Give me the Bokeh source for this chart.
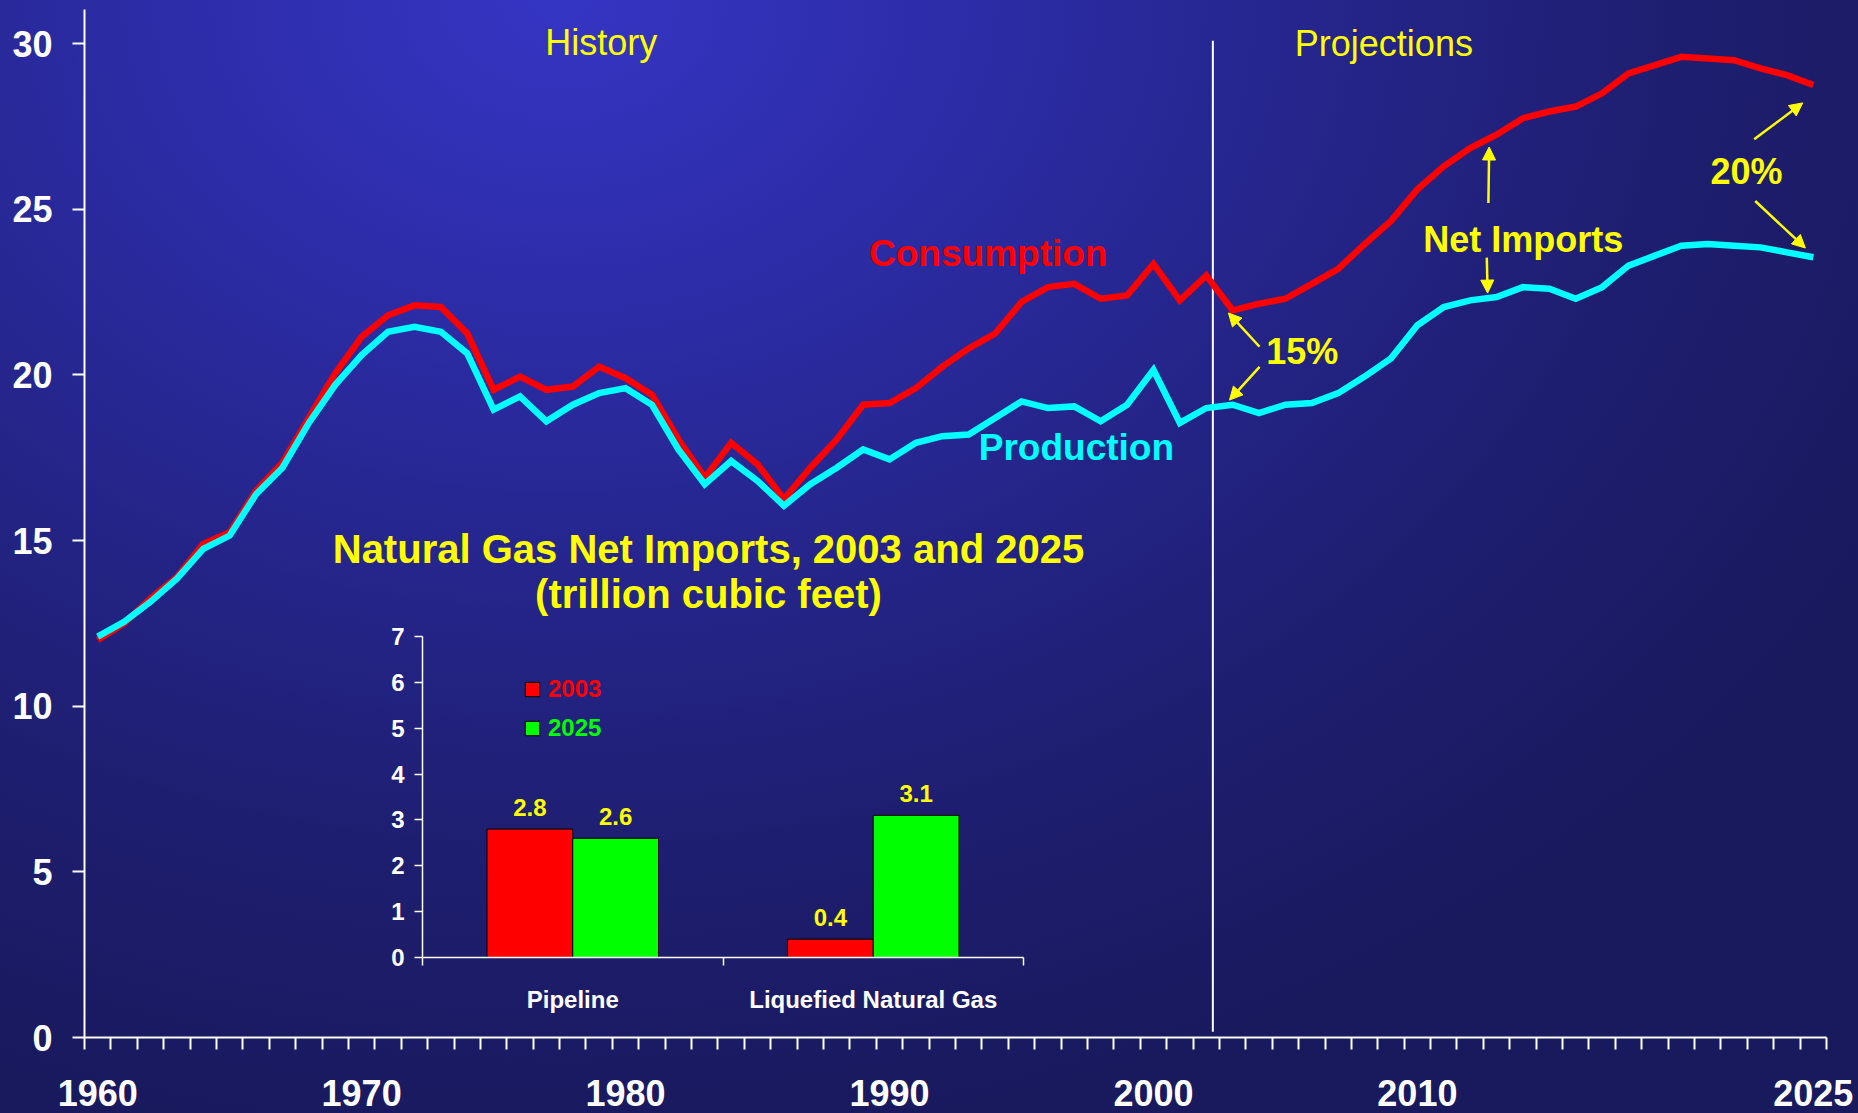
from bokeh.plotting import figure
from bokeh.models import (Range1d, FactorRange, FixedTicker, LinearAxis, Label, Arrow,
                          NormalHead, Legend, LegendItem, ColumnDataSource)
from bokeh.transform import dodge
from bokeh.layouts import column
from bokeh.core.properties import value
from bokeh.embed import file_html
from bokeh.resources import INLINE

# ---------------- data ----------------
years = list(range(1960, 2026))
consumption = [12.0, 12.5, 13.25, 13.9, 14.9, 15.25, 16.5, 17.35, 18.7, 20.05,
               21.15, 21.8, 22.1, 22.05, 21.25, 19.55, 19.95, 19.55, 19.65, 20.25,
               19.9, 19.4, 18.05, 16.9, 17.95, 17.3, 16.25, 17.2, 18.05, 19.1,
               19.15, 19.6, 20.25, 20.8, 21.25, 22.2, 22.65, 22.75, 22.3, 22.4,
               23.35, 22.25, 23.0, 21.95, 22.15, 22.3, 22.75, 23.2, 23.95, 24.65,
               25.6, 26.3, 26.85, 27.25, 27.75, 27.95, 28.1, 28.5, 29.1, 29.35,
               29.6, 29.55, 29.5, 29.25, 29.05, 28.75]
production = [12.1, 12.55, 13.15, 13.85, 14.75, 15.15, 16.4, 17.2, 18.55, 19.7,
              20.6, 21.3, 21.45, 21.3, 20.65, 18.95, 19.35, 18.6, 19.1, 19.45,
              19.6, 19.1, 17.75, 16.7, 17.4, 16.8, 16.05, 16.7, 17.2, 17.75,
              17.45, 17.95, 18.15, 18.2, 18.7, 19.2, 19.0, 19.05, 18.6, 19.1,
              20.15, 18.55, 19.0, 19.1, 18.85, 19.1, 19.15, 19.45, 19.95, 20.5,
              21.5, 22.05, 22.25, 22.35, 22.65, 22.6, 22.3, 22.65, 23.3, 23.6,
              23.9, 23.95, 23.9, 23.85, 23.7, 23.55]
x_tick_years = [1960, 1970, 1980, 1990, 2000, 2010, 2025]
x_tick_labels = ["1960", "1970", "1980", "1990", "2000", "2010", "2025"]
y_ticks = [0, 5, 10, 15, 20, 25, 30]

import_categories = ["Pipeline", "Liquefied Natural Gas"]
imports_2003 = [2.8, 0.4]
imports_2025 = [2.6, 3.1]
inset_y_ticks = [0, 1, 2, 3, 4, 5, 6, 7]

# ---------------- style ----------------
FONT = "Liberation Sans"
YELLOW = "#FFFF00"
RED = "#FF0000"
CYAN = "#00FFFF"
GREEN = "#00FF00"
WHITE = "#FFFFFF"

W, H = 1858, 1113
p = figure(width=W, height=H, x_range=Range1d(1959.5, 2025.5), y_range=Range1d(0, 31.03),
           output_backend="svg", toolbar_location=None,
           min_border_left=84, min_border_right=32, min_border_top=9, min_border_bottom=76)
p.background_fill_color = None
p.border_fill_color = None
p.outline_line_color = None
p.xgrid.visible = False
p.ygrid.visible = False
p.styles = {
    "background": "radial-gradient(ellipse 1500px 1150px at 560px 0px, #3535c4 0%, #2d2daa 25%, "
                  "#25258c 50%, #1e1e70 75%, #19195e 100%)",
}

xa = p.xaxis[0]
xa.ticker = FixedTicker(ticks=x_tick_years,
                        minor_ticks=[y - 0.5 for y in years] + [years[-1] + 0.5])
xa.major_label_overrides = dict(zip(x_tick_years, x_tick_labels))
xa.major_tick_out = 0
xa.major_tick_in = 0
xa.minor_tick_out = 12
xa.minor_tick_in = 0
xa.minor_tick_line_color = WHITE
xa.minor_tick_line_width = 2
xa.axis_line_color = WHITE
xa.axis_line_width = 2
xa.major_label_text_font = FONT
xa.major_label_text_font_size = "36px"
xa.major_label_text_font_style = "bold"
xa.major_label_text_color = WHITE
xa.major_label_standoff = 30

ya = p.yaxis[0]
ya.ticker = FixedTicker(ticks=y_ticks)
ya.major_tick_out = 12
ya.major_tick_in = 0
ya.minor_tick_out = 0
ya.minor_tick_in = 0
ya.major_tick_line_color = WHITE
ya.major_tick_line_width = 2
ya.axis_line_color = WHITE
ya.axis_line_width = 2
ya.major_label_text_font = FONT
ya.major_label_text_font_size = "36px"
ya.major_label_text_font_style = "bold"
ya.major_label_text_color = WHITE
ya.major_label_standoff = 20

# history / projections divider
DIVIDER_X, DIVIDER_Y0, DIVIDER_Y1 = 2002.25, 0.17, 30.09
p.segment(x0=[DIVIDER_X], y0=[DIVIDER_Y0], x1=[DIVIDER_X], y1=[DIVIDER_Y1],
          line_color=WHITE, line_width=2)

p.line(years, consumption, line_color=RED, line_width=6.5, line_join="miter")
p.line(years, production, line_color=CYAN, line_width=6.5, line_join="miter")

# text annotations: (text, x, y, colour, bold, size)
text_specs = [
    ("History", 1979.08, 30.04, YELLOW, False, "36px"),
    ("Projections", 2008.73, 30.01, YELLOW, False, "36px"),
    ("Consumption", 1993.74, 23.67, RED, True, "37px"),
    ("Production", 1997.08, 17.82, CYAN, True, "37px"),
    ("15%", 2005.64, 20.70, YELLOW, True, "36px"),
    ("Net Imports", 2014.01, 24.08, YELLOW, True, "36px"),
    ("20%", 2022.47, 26.14, YELLOW, True, "36px"),
    ("Natural Gas Net Imports, 2003 and 2025", 1983.14, 14.74, YELLOW, True, "40px"),
    ("(trillion cubic feet)", 1983.14, 13.39, YELLOW, True, "40px"),
]
for t, x, y, c, b, s in text_specs:
    p.add_layout(Label(x=x, y=y, text=t, text_color=c, text_font=FONT, text_font_size=s,
                       text_font_style="bold" if b else "normal",
                       text_align="center", text_baseline="alphabetic"))

# arrows: (x_start, y_start, x_end, y_end)
arrow_specs = [
    (2004.02, 20.85, 2002.84, 21.87),
    (2004.02, 20.24, 2002.88, 19.24),
    (2012.69, 25.19, 2012.72, 26.88),
    (2012.63, 23.54, 2012.66, 22.47),
    (2022.76, 27.11, 2024.60, 28.21),
    (2022.80, 25.25, 2024.70, 23.83),
]
for xs, ys, xe, ye in arrow_specs:
    p.add_layout(Arrow(end=NormalHead(size=13, fill_color=YELLOW, line_color=YELLOW, line_width=1),
                       x_start=xs, y_start=ys, x_end=xe, y_end=ye,
                       line_color=YELLOW, line_width=2.5))

# ---------------- inset bar chart ----------------
inset = figure(width=780, height=511, x_range=FactorRange(factors=import_categories),
               y_range=Range1d(0, 7), output_backend="svg", toolbar_location=None,
               x_axis_location=None, y_axis_location="left",
               min_border_left=102, min_border_right=77, min_border_top=116, min_border_bottom=74)
inset.background_fill_color = None
inset.border_fill_color = None
inset.outline_line_color = None
inset.xgrid.visible = False
inset.ygrid.visible = False
inset.styles = {"position": "absolute", "left": "320px", "top": "520px"}

# keep the two plots' frames independent (no frame alignment inside the layout)
for fig in (p, inset):
    if "frame_align" in fig.properties():
        fig.frame_align = False

cat_centers = [i + 0.5 for i in range(len(import_categories))]
ixa = LinearAxis(ticker=FixedTicker(ticks=cat_centers,
                                    minor_ticks=list(range(len(import_categories) + 1))),
                 major_label_overrides=dict(zip(cat_centers, import_categories)))
ixa.major_tick_out = 0
ixa.major_tick_in = 0
ixa.minor_tick_out = 8
ixa.minor_tick_in = 0
ixa.minor_tick_line_color = WHITE
ixa.minor_tick_line_width = 1.5
ixa.axis_line_color = WHITE
ixa.axis_line_width = 1.5
ixa.major_label_text_font = FONT
ixa.major_label_text_font_size = "24px"
ixa.major_label_text_font_style = "bold"
ixa.major_label_text_color = WHITE
ixa.major_label_standoff = 20
inset.add_layout(ixa, "below")

iya = inset.yaxis[0]
iya.ticker = FixedTicker(ticks=inset_y_ticks)
iya.major_tick_out = 8
iya.major_tick_in = 0
iya.minor_tick_out = 0
iya.minor_tick_in = 0
iya.major_tick_line_color = WHITE
iya.major_tick_line_width = 1.5
iya.axis_line_color = WHITE
iya.axis_line_width = 1.5
iya.major_label_text_font = FONT
iya.major_label_text_font_size = "24px"
iya.major_label_text_font_style = "bold"
iya.major_label_text_color = WHITE
iya.major_label_standoff = 10

BAR_W = 0.2854
src = ColumnDataSource(dict(cat=import_categories, v2003=imports_2003, v2025=imports_2025,
                            l2003=[f"{v:.1f}" for v in imports_2003],
                            l2025=[f"{v:.1f}" for v in imports_2025]))
r1 = inset.vbar(x=dodge("cat", -BAR_W / 2, range=inset.x_range), top="v2003", width=BAR_W,
                source=src, fill_color=RED, line_color="black", line_width=1)
r2 = inset.vbar(x=dodge("cat", BAR_W / 2, range=inset.x_range), top="v2025", width=BAR_W,
                source=src, fill_color=GREEN, line_color="black", line_width=1)
for off, col in ((-BAR_W / 2, "v2003"), (BAR_W / 2, "v2025")):
    inset.text(x=dodge("cat", off, range=inset.x_range), y=col, text=col.replace("v", "l"),
               source=src, y_offset=-22, text_color=YELLOW, text_font=value(FONT),
               text_font_size="24px", text_font_style="bold",
               text_align="center", text_baseline="middle")

for lbl, rend, col, loc in (("2003", r1, RED, (101, 254)), ("2025", r2, GREEN, (101, 215))):
    leg = Legend(items=[LegendItem(label=lbl, renderers=[rend])], location=loc,
                 padding=0, margin=0, spacing=0, glyph_width=18, glyph_height=18,
                 label_standoff=7, label_height=18, label_text_font=FONT,
                 label_text_font_size="24px", label_text_font_style="bold",
                 label_text_color=col, background_fill_alpha=0, border_line_alpha=0)
    inset.add_layout(leg)

layout = column(p, inset)
open("out.html", "w").write(file_html(layout, INLINE))
